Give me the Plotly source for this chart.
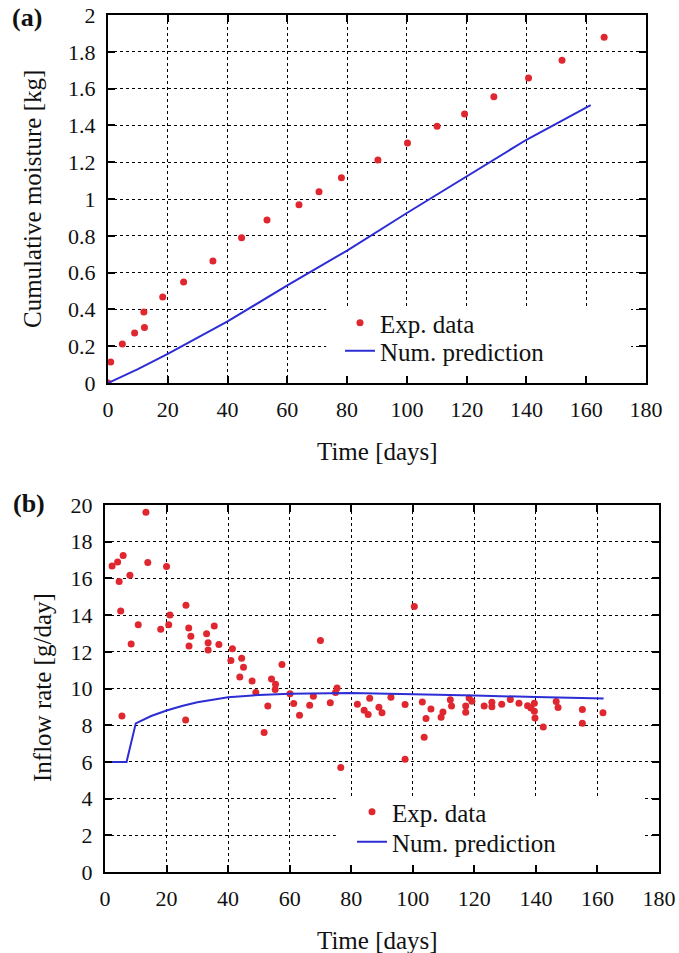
import plotly.graph_objects as go

# (a) cumulative moisture
moist_days = [0, 0.9, 4.8, 8.9, 12.0, 12.2, 18.3, 25.3, 35.1, 44.7, 53.2, 63.9, 70.6,
              78.1, 90.3, 100.2, 110.1, 119.3, 129.1, 140.7, 151.9, 166.0]
moist_kg = [0.0, 0.114, 0.212, 0.272, 0.386, 0.302, 0.467, 0.549, 0.663, 0.79, 0.886, 0.969, 1.04,
            1.116, 1.212, 1.304, 1.395, 1.462, 1.556, 1.658, 1.754, 1.879]
moist_pred_days = [0, 10, 20, 30, 40, 60, 80, 100, 120, 140, 161.5]
moist_pred_kg = [0, 0.075, 0.158, 0.245, 0.335, 0.53, 0.72, 0.924, 1.123, 1.322, 1.51]

# (b) inflow rate
inflow_days = [2.3, 4.1, 5.9, 4.6, 8.1, 5.1, 5.5, 8.5, 10.8, 13.3, 13.9, 18.1, 20.0, 20.7, 21.1,
               26.2, 26.3, 27.2, 27.9, 27.3, 33.0, 33.5, 33.5, 35.5, 37.0, 40.9, 41.4, 43.8, 44.4,
               45.0, 47.8, 49.0, 51.7, 52.9, 54.1, 55.3, 55.4, 57.5, 60.1, 61.3, 63.2, 66.5, 67.7,
               70.0, 73.2, 74.9, 75.4, 76.6, 82.0, 84.2, 85.5, 86.0, 89.0, 90.0, 92.9, 97.5, 97.5,
               100.5, 103.1, 103.7, 104.3, 105.9, 109.2, 109.8, 112.2, 112.6, 117.2, 117.2, 118.3,
               119.2, 123.2, 125.7, 125.7, 128.9, 131.7, 134.5, 137.3, 138.4, 139.5, 139.5, 139.7,
               142.4, 146.6, 147.2, 155.1, 155.1, 161.8]
inflow_rate = [16.67, 16.9, 17.25, 15.83, 16.17, 14.23, 8.5, 12.43, 13.47, 19.6, 16.87, 13.23, 16.65,
               13.47, 14.0, 8.29, 14.54, 13.3, 12.85, 12.32, 12.98, 12.49, 12.1, 13.41, 12.4, 11.53,
               12.16, 10.63, 11.65, 11.16, 10.41, 9.78, 7.6, 9.05, 10.52, 9.94, 10.23, 11.31, 9.71,
               9.18, 8.54, 9.09, 9.58, 12.62, 9.22, 9.78, 10.03, 5.69, 9.14, 8.82, 8.58, 9.47, 8.98,
               8.68, 9.52, 9.13, 6.15, 14.47, 9.27, 7.34, 8.37, 8.88, 8.43, 8.72, 9.39, 9.04, 9.05,
               8.71, 9.48, 9.3, 9.04, 9.25, 9.0, 9.14, 9.4, 9.2, 9.06, 8.94, 9.2, 8.76, 8.39, 7.9,
               9.29, 8.97, 8.85, 8.11, 8.68]
inflow_pred_days = [0, 7, 10, 15, 20, 25, 30, 35, 40, 50, 60, 80, 100, 120, 140, 162]
inflow_pred_rate = [6.0, 6.0, 8.1, 8.5, 8.8, 9.05, 9.25, 9.4, 9.52, 9.65, 9.72, 9.75, 9.7, 9.62, 9.53, 9.45]

W, H = 679, 953
SERIF = "Liberation Serif"
INK = "#111"
RED = "#e0262f"
BLUE = "#2d2dd6"


def px(x):
    return x / W


def py(y):
    return 1 - y / H


fig = go.Figure()

fig.add_trace(go.Scatter(x=moist_days, y=moist_kg, mode="markers", name="Exp. data",
                         marker=dict(color=RED, size=7), xaxis="x", yaxis="y", legend="legend"))
fig.add_trace(go.Scatter(x=moist_pred_days, y=moist_pred_kg, mode="lines", name="Num. prediction",
                         line=dict(color=BLUE, width=2), xaxis="x", yaxis="y", legend="legend2"))
fig.add_trace(go.Scatter(x=inflow_days, y=inflow_rate, mode="markers", name="Exp. data",
                         marker=dict(color=RED, size=7), xaxis="x2", yaxis="y2", legend="legend3"))
fig.add_trace(go.Scatter(x=inflow_pred_days, y=inflow_pred_rate, mode="lines", name="Num. prediction",
                         line=dict(color=BLUE, width=2), xaxis="x2", yaxis="y2", legend="legend4"))

axis_common = dict(
    showline=True, linecolor="black", linewidth=2, mirror="ticks",
    ticks="inside", ticklen=7, tickwidth=1.5, tickcolor="black",
    showgrid=True, gridcolor="black", gridwidth=1.3, griddash="dot",
    zeroline=False, automargin=False,
    tickfont=dict(family=SERIF, size=22, color=INK),
    ticklabelstandoff=6,
)


def leg(x, y):
    return dict(x=px(x), y=py(y), xanchor="left", yanchor="middle", bgcolor="rgba(0,0,0,0)",
                font=dict(family=SERIF, size=25, color=INK), borderwidth=0)


def label(text, x, y, size=25, angle=0):
    return dict(text=text, x=px(x), y=py(y), xref="paper", yref="paper", showarrow=False,
                xanchor="center", yanchor="middle", textangle=angle,
                font=dict(family=SERIF, size=size, color=INK))


fig.update_layout(
    width=W, height=H,
    margin=dict(l=0, r=0, t=0, b=0),
    paper_bgcolor="white", plot_bgcolor="white",
    template="none",
    font=dict(family=SERIF, size=22, color=INK),
    xaxis=dict(axis_common, domain=[px(108), px(646)], range=[0, 180], dtick=20, anchor="y"),
    yaxis=dict(axis_common, domain=[py(383), py(15)], range=[0, 2], dtick=0.2, anchor="x"),
    xaxis2=dict(axis_common, domain=[px(105), px(659)], range=[0, 180], dtick=20, anchor="y2"),
    yaxis2=dict(axis_common, domain=[py(872), py(505)], range=[0, 20], dtick=2, anchor="x2"),
    showlegend=True,
    legend=leg(340, 323),
    legend2=leg(340, 351),
    legend3=leg(352, 812),
    legend4=leg(352, 842),
    shapes=[
        dict(type="rect", xref="x", yref="y", x0=73, x1=175, y0=0, y1=0.41,
             fillcolor="white", line=dict(width=0), layer="between"),
        dict(type="rect", xref="x2", yref="y2", x0=75, x1=175, y0=0, y1=4.1,
             fillcolor="white", line=dict(width=0), layer="between"),
    ],
    annotations=[
        label("<b>(a)</b>", 27, 18, size=26),
        label("Cumulative moisture [kg]", 33, 199, angle=-90),
        label("Time [days]", 377, 452),
        label("<b>(b)</b>", 29, 503, size=26),
        label("Inflow rate [g/day]", 42, 688, angle=-90),
        label("Time [days]", 377, 940),
    ],
)

# the page's default body margin would shift the figure by 8px
fig.write_html("out.html", config={"displayModeBar": False},
               post_script="document.body.style.margin='0';")
